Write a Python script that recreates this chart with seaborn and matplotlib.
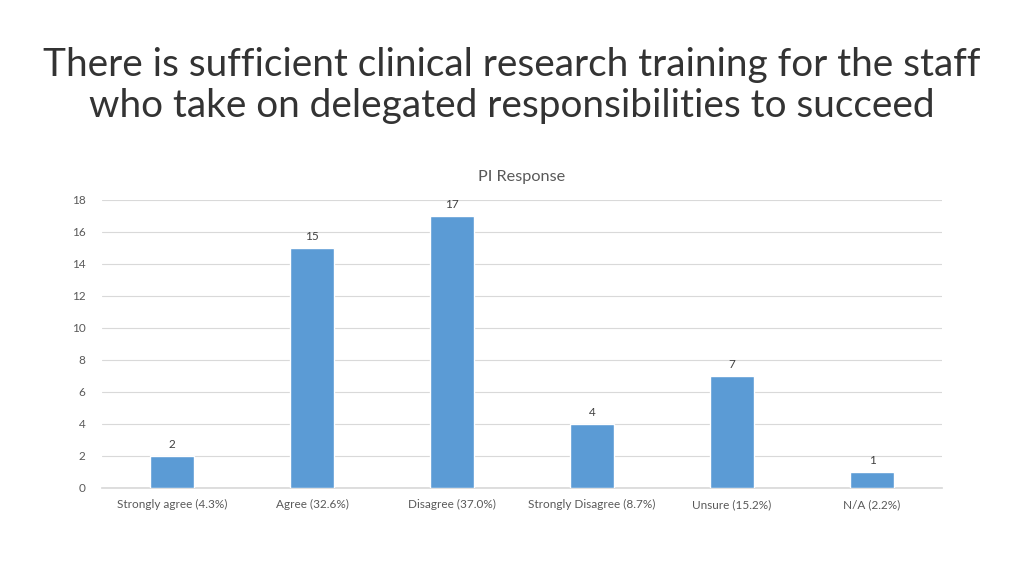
import matplotlib
matplotlib.use("Agg")
import matplotlib.pyplot as plt
import seaborn as sns
import pandas as pd

categorias = ["Strongly agree (4.3%)", "Agree (32.6%)", "Disagree (37.0%)",
              "Strongly Disagree (8.7%)", "Unsure (15.2%)", "N/A (2.2%)"]
respostas = [2, 15, 17, 4, 7, 1]
ticks_y = [0, 2, 4, 6, 8, 10, 12, 14, 16, 18]

df = pd.DataFrame({"categoria": categorias, "respostas": respostas})

sns.set_theme(style="white")
plt.rcParams["font.family"] = ["Lato", "DejaVu Sans"]

fig = plt.figure(figsize=(10.24, 5.76), dpi=100)
ax = fig.add_axes([0.0996, 0.1528, 0.8204, 0.5])

sns.barplot(data=df, x="categoria", y="respostas", color="#5B9BD5",
            width=0.314, saturation=1, ax=ax, zorder=3)

# rotulos em cima das barras
for i, v in enumerate(respostas):
    ax.text(i, v + 0.35, str(v), ha="center", va="bottom", fontsize=8.5, color="#404040")

ax.set_ylim(0, 18)
ax.set_yticks(ticks_y)
ax.set_xlim(-0.5, len(categorias) - 0.5)
ax.grid(axis="y", color="#d9d9d9", linewidth=0.8, zorder=0)
for s in ["top", "right", "left"]:
    ax.spines[s].set_visible(False)
ax.spines["bottom"].set_color("#d9d9d9")
ax.tick_params(axis="both", length=0, labelsize=8.5, colors="#595959")
ax.tick_params(axis="x", pad=8)
ax.tick_params(axis="y", pad=12)
ax.set_xlabel("")
ax.set_ylabel("")
ax.set_title("PI Response", fontsize=11.7, color="#595959", pad=14)

fig.text(0.5, 0.852, "There is sufficient clinical research training for the staff\nwho take on delegated responsibilities to succeed",
         ha="center", va="center", fontsize=27.9, color="#333333", linespacing=1.16)

fig.savefig("out.png", dpi=100)
